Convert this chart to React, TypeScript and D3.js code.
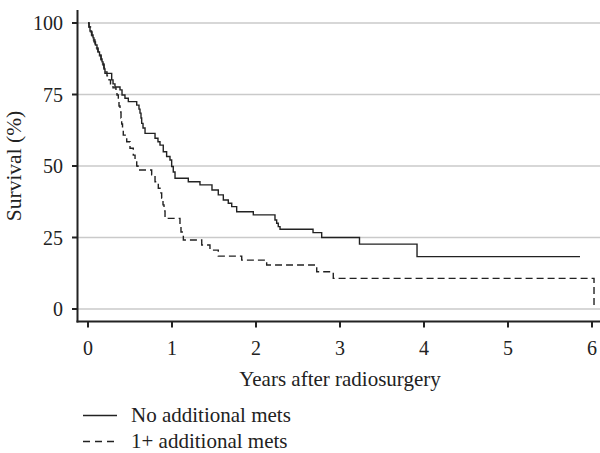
import { useMemo } from 'react'
import * as d3 from 'd3'

// Kaplan–Meier steps (years, survival %)
const noMetsTime = [
  0, 0.012, 0.024, 0.042, 0.06, 0.071, 0.089, 0.107, 0.119, 0.137, 0.155, 0.167, 0.179, 0.19,
  0.202, 0.282, 0.298, 0.321, 0.381, 0.405, 0.44, 0.48, 0.58, 0.607, 0.619, 0.631, 0.639, 0.655,
  0.679, 0.798, 0.833, 0.857, 0.896, 0.936, 0.976, 0.996, 1.015, 1.036, 1.194, 1.333, 1.476,
  1.551, 1.611, 1.67, 1.711, 1.77, 1.968, 2.226, 2.246, 2.265, 2.286, 2.679, 2.782, 3.232,
  3.917, 5.857,
]
const noMetsSurv = [
  100, 98.6, 97.2, 95.8, 94.8, 93.4, 92.3, 90.9, 89.9, 88.8, 87.4, 86.4, 85.3, 83.9, 82.4, 80.1,
  78.7, 77.6, 76.6, 74.8, 73.7, 72.5, 71.3, 69.9, 68.5, 66.8, 64.9, 63.3, 61.4, 59.7, 58.5, 57.3,
  55.0, 53.3, 52.1, 49.8, 47.9, 45.7, 44.5, 43.4, 41.6, 39.9, 38.1, 37.0, 35.8, 34.0, 32.9, 31.1,
  30.0, 28.8, 27.9, 26.7, 25.0, 22.7, 18.3, 18.3,
]

const addMetsTime = [
  0, 0.012, 0.03, 0.048, 0.065, 0.083, 0.101, 0.119, 0.137, 0.155, 0.173, 0.19, 0.208, 0.226,
  0.25, 0.268, 0.298, 0.333, 0.345, 0.361, 0.369, 0.381, 0.393, 0.401, 0.411, 0.42, 0.461, 0.5,
  0.539, 0.56, 0.58, 0.595, 0.758, 0.798, 0.837, 0.857, 0.877, 0.893, 0.905, 0.917, 1.095,
  1.107, 1.135, 1.354, 1.452, 1.551, 1.83, 2.127, 2.723, 2.92, 6.024,
]
const addMetsSurv = [
  100, 98.6, 96.9, 95.5, 94.1, 92.7, 91.3, 89.9, 88.5, 87.1, 85.7, 84.3, 82.9, 81.5, 80.1, 78.7,
  77.3, 76.2, 74.8, 73.1, 71.0, 68.9, 66.8, 64.7, 62.6, 60.8, 58.5, 56.2, 53.8, 52.1, 50.0, 48.6,
  46.9, 44.5, 42.2, 40.6, 38.7, 36.4, 34.3, 31.7, 29.0, 26.9, 24.1, 22.4, 20.6, 18.5, 17.1, 15.4,
  13.0, 10.7, 0,
]

const xTicks = [0, 1, 2, 3, 4, 5, 6]
const yTicks = [0, 25, 50, 75, 100]
const seriesNames = ['No additional mets', '1+ additional mets']

const W = 600
const H = 453
const AXIS_X = 77.5
const AXIS_Y = 321.5
const INK = '#222'
const GRID = '#cacaca'
const FONT = '"Liberation Serif", "Times New Roman", serif'

export default function App() {
  const x = useMemo(() => d3.scaleLinear().domain([0, 6]).range([88, 592]), [])
  const y = useMemo(() => d3.scaleLinear().domain([0, 100]).range([309, 23]), [])

  const line = d3.line<[number, number]>()
    .x(d => x(d[0]))
    .y(d => y(d[1]))
    .curve(d3.curveStepAfter)

  const solid = line(noMetsTime.map((t, i) => [t, noMetsSurv[i]]))
  const dashed = line(addMetsTime.map((t, i) => [t, addMetsSurv[i]]))

  return (
    <svg
      width={W}
      height={H}
      viewBox={`0 0 ${W} ${H}`}
      style={{ position: 'absolute', left: 0, top: 0, background: '#fff', fontFamily: FONT }}
    >
      {/* grid */}
      {yTicks.map(t => (
        <line key={t} x1={AXIS_X} x2={W} y1={y(t)} y2={y(t)} stroke={GRID} strokeWidth={1.5} />
      ))}

      {/* curves */}
      <path d={solid ?? ''} fill="none" stroke={INK} strokeWidth={1.4} />
      <path d={dashed ?? ''} fill="none" stroke={INK} strokeWidth={1.4} strokeDasharray="7,4" />

      {/* axes */}
      <line x1={AXIS_X} x2={AXIS_X} y1={10} y2={AXIS_Y + 1} stroke={INK} strokeWidth={2} />
      <line x1={AXIS_X - 1} x2={W} y1={AXIS_Y} y2={AXIS_Y} stroke={INK} strokeWidth={2} />

      {yTicks.map(t => (
        <g key={t}>
          <line x1={AXIS_X - 5.5} x2={AXIS_X} y1={y(t)} y2={y(t)} stroke={INK} strokeWidth={2} />
          <text x={63} y={y(t)} dy="0.35em" textAnchor="end" fontSize={20} fill={INK}>{t}</text>
        </g>
      ))}
      {xTicks.map(t => (
        <g key={t}>
          <line x1={x(t)} x2={x(t)} y1={AXIS_Y} y2={AXIS_Y + 6} stroke={INK} strokeWidth={2} />
          <text x={x(t)} y={355} textAnchor="middle" fontSize={20} fill={INK}>{t}</text>
        </g>
      ))}

      <text x={340} y={386} textAnchor="middle" fontSize={21} fill={INK}>Years after radiosurgery</text>
      <text
        transform={`translate(21,${(y(0) + y(100)) / 2}) rotate(-90)`}
        textAnchor="middle"
        fontSize={21.5}
        fill={INK}
      >
        Survival (%)
      </text>

      {/* legend */}
      {seriesNames.map((name, i) => {
        const ly = 415.5 + i * 26
        return (
          <g key={name}>
            <line
              x1={83}
              x2={117}
              y1={ly}
              y2={ly}
              stroke={INK}
              strokeWidth={1.6}
              strokeDasharray={i === 1 ? '7,5' : undefined}
            />
            <text x={131} y={ly + 6.5} fontSize={21} fill={INK}>{name}</text>
          </g>
        )
      })}
    </svg>
  )
}
